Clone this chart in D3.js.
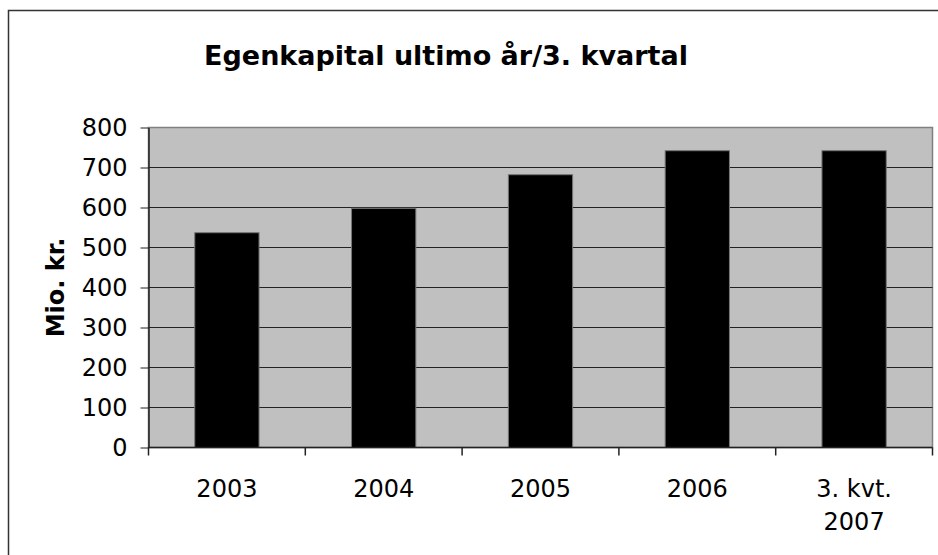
<!DOCTYPE html>
<html>
<head>
<meta charset="utf-8">
<script src="https://cdn.jsdelivr.net/npm/d3@7"></script>
<style>
	body { margin: 0; background: #fff; }
	text { font-family: 'DejaVu Sans', Verdana, sans-serif; fill: #000; }
</style>
</head>
<body>
<div id="graphics"></div>
<script>
// data
const categories = ['2003', '2004', '2005', '2006', '3. kvt.|2007'];
const values = [537, 598, 682, 742, 742];
const yTicks = [0, 100, 200, 300, 400, 500, 600, 700, 800];

const margin = { top: 127.5, left: 148.5, right: 5.5, bottom: 107.5 };
const width = 938 - margin.left - margin.right;
const height = 555 - margin.top - margin.bottom;

const root = d3
	.select('#graphics')
	.append('svg')
	.attr('width', 938)
	.attr('height', 555);

// outer chart frame (runs off right/bottom like the original)
root.append('rect')
	.attr('x', 8.5)
	.attr('y', 10.5)
	.attr('width', 940)
	.attr('height', 560)
	.attr('fill', 'none')
	.attr('stroke', '#333')
	.attr('stroke-width', 1.5);

root.append('text')
	.text('Egenkapital ultimo år/3. kvartal')
	.attr('x', 446)
	.attr('y', 65)
	.attr('text-anchor', 'middle')
	.attr('font-size', 27)
	.attr('font-weight', 'bold');

root.append('text')
	.text('Mio. kr.')
	.attr('transform', 'translate(64,' + (margin.top + height / 2) + ') rotate(-90)')
	.attr('text-anchor', 'middle')
	.attr('font-size', 24)
	.attr('font-weight', 'bold');

const svg = root.append('g')
	.attr('transform', 'translate(' + margin.left + ',' + margin.top + ')');

// scales
const xPositionScale = d3.scaleBand().domain(categories).range([0, width]).paddingInner(0.59).paddingOuter(0.295);
const xTickScale = d3.scaleBand().domain(categories).range([0, width]);
const yPositionScale = d3.scaleLinear().domain([0, 800]).range([height, 0]);

// plot background
svg.append('rect')
	.attr('width', width)
	.attr('height', height)
	.attr('fill', '#c0c0c0')
	.attr('stroke', '#808080')
	.attr('stroke-width', 1.5);

// gridlines
svg.selectAll('.grid')
	.data(yTicks.filter((d) => d > 0 && d < 800))
	.enter()
	.append('line')
	.attr('class', 'grid')
	.attr('x1', 0)
	.attr('x2', width)
	.attr('y1', (d) => yPositionScale(d))
	.attr('y2', (d) => yPositionScale(d))
	.attr('stroke', '#222')
	.attr('stroke-width', 1);

// bars
svg.selectAll('.bar')
	.data(values)
	.enter()
	.append('rect')
	.attr('class', 'bar')
	.attr('x', (d, i) => xPositionScale(categories[i]))
	.attr('y', (d) => yPositionScale(d))
	.attr('width', xPositionScale.bandwidth())
	.attr('height', (d) => height - yPositionScale(d))
	.attr('fill', '#000')
	.attr('stroke', '#777')
	.attr('stroke-width', 1);

// y axis
const yOptions = d3.axisLeft(yPositionScale)
	.tickValues(yTicks)
	.tickSizeInner(8)
	.tickSizeOuter(0)
	.tickPadding(13);
const yAxis = svg.append('g').attr('class', 'axis y-axis').call(yOptions);
yAxis.selectAll('text').attr('font-size', 24).attr('fill', '#000').attr('font-family', 'DejaVu Sans');
yAxis.selectAll('line').attr('stroke', '#222');
yAxis.select('.domain').attr('stroke', '#222').attr('stroke-width', 1.5);

// x axis line
svg.append('line')
	.attr('x1', 0)
	.attr('x2', width)
	.attr('y1', height)
	.attr('y2', height)
	.attr('stroke', '#222')
	.attr('stroke-width', 1.5);

// x ticks at band edges
const edges = categories.map((c) => xTickScale(c)).concat([width]);
svg.selectAll('.xtick')
	.data(edges)
	.enter()
	.append('line')
	.attr('class', 'xtick')
	.attr('x1', (d) => d)
	.attr('x2', (d) => d)
	.attr('y1', height)
	.attr('y2', height + 8)
	.attr('stroke', '#222')
	.attr('stroke-width', 1.5);

// x labels
const xLabels = svg.selectAll('.xlabel')
	.data(categories)
	.enter()
	.append('text')
	.attr('class', 'xlabel')
	.attr('text-anchor', 'middle')
	.attr('font-size', 24)
	.attr('transform', (d) => 'translate(' + (xTickScale(d) + xTickScale.bandwidth() / 2) + ',' + (height + 49.5) + ')');

xLabels.selectAll('tspan')
	.data((d) => d.split('|'))
	.enter()
	.append('tspan')
	.attr('x', 0)
	.attr('dy', (d, i) => (i === 0 ? 0 : 33))
	.text((d) => d);
</script>
</body>
</html>
